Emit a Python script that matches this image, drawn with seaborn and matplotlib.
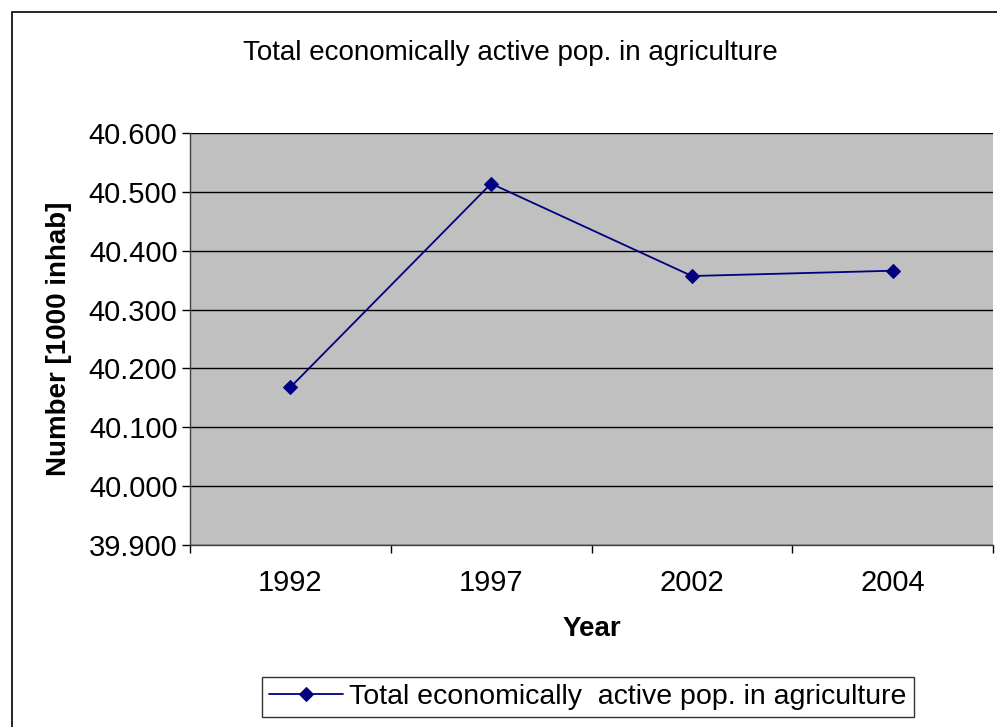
import matplotlib
matplotlib.use("Agg")
import matplotlib.pyplot as plt
import seaborn as sns
import pandas as pd
import numpy as np
from matplotlib.patches import Rectangle

years = ["1992", "1997", "2002", "2004"]
values = [40.168, 40.514, 40.357, 40.366]
yticks = [39.9, 40.0, 40.1, 40.2, 40.3, 40.4, 40.5, 40.6]
ytick_labels = ["39.900", "40.000", "40.100", "40.200", "40.300", "40.400", "40.500", "40.600"]
series_name = "Total economically  active pop. in agriculture"
title = "Total economically active pop. in agriculture"

sns.set_theme(style="white")
plt.rcParams['font.family'] = ['Liberation Sans', 'DejaVu Sans']
plt.rcParams['text.color'] = 'black'
plt.rcParams['axes.labelcolor'] = 'black'
plt.rcParams['xtick.color'] = 'black'
plt.rcParams['ytick.color'] = 'black'

df = pd.DataFrame({"Year": years, "Value": values})

fig = plt.figure(figsize=(9.97, 7.27), dpi=100)
ax = fig.add_axes([190/997, 1-545/727, (993-190)/997, (545-133)/727])
ax.set_facecolor("#C0C0C0")

pos = np.arange(len(years))
sns.lineplot(x=pos, y=df["Value"], ax=ax, color="#000080", linewidth=1.3,
             marker="D", markersize=7, markeredgecolor="#000080",
             label=series_name)

ax.set_ylim(39.9, 40.6)
ax.set_yticks(yticks)
ax.set_yticklabels(ytick_labels, fontsize=21)
ax.set_xlim(-0.5, len(years) - 0.5)
ax.set_xticks(pos)
ax.set_xticklabels(years, fontsize=21)
ax.set_xticks(np.arange(-0.5, len(years)), minor=True)
ax.tick_params(axis='x', which='major', length=0, pad=17, bottom=True)
ax.tick_params(axis='x', which='minor', length=6, width=1, color='black', direction='out', bottom=True)
ax.tick_params(axis='y', which='major', length=6, width=1, color='black', direction='out', pad=3, left=True)
ax.grid(axis='y', color='black', linewidth=1)
ax.set_axisbelow(True)
for s in ['top', 'right']:
    ax.spines[s].set_visible(False)
for s in ['left', 'bottom']:
    ax.spines[s].set_color('#404040')
    ax.spines[s].set_linewidth(1)

ax.set_xlabel("Year", fontsize=20, fontweight='bold', labelpad=14)
ax.set_ylabel("Number [1000 inhab]", fontsize=20, fontweight='bold', labelpad=12)

fig.text(510/997, 1-53/727, title, fontsize=20, ha='center', va='center')

leg = ax.legend(loc='center', bbox_to_anchor=(588/997, 1-697/727),
                bbox_transform=fig.transFigure, fontsize=20.5, frameon=True,
                fancybox=False, edgecolor='black', handlelength=2.6,
                borderpad=0.25, handletextpad=0.2, borderaxespad=0)
leg.get_frame().set_linewidth(1)

fig.patches.append(Rectangle((12/997, -0.01), 1.0, 1-12/727 + 0.01,
                             transform=fig.transFigure, fill=False,
                             edgecolor='black', linewidth=1.2))

fig.savefig("out.png", dpi=100)
